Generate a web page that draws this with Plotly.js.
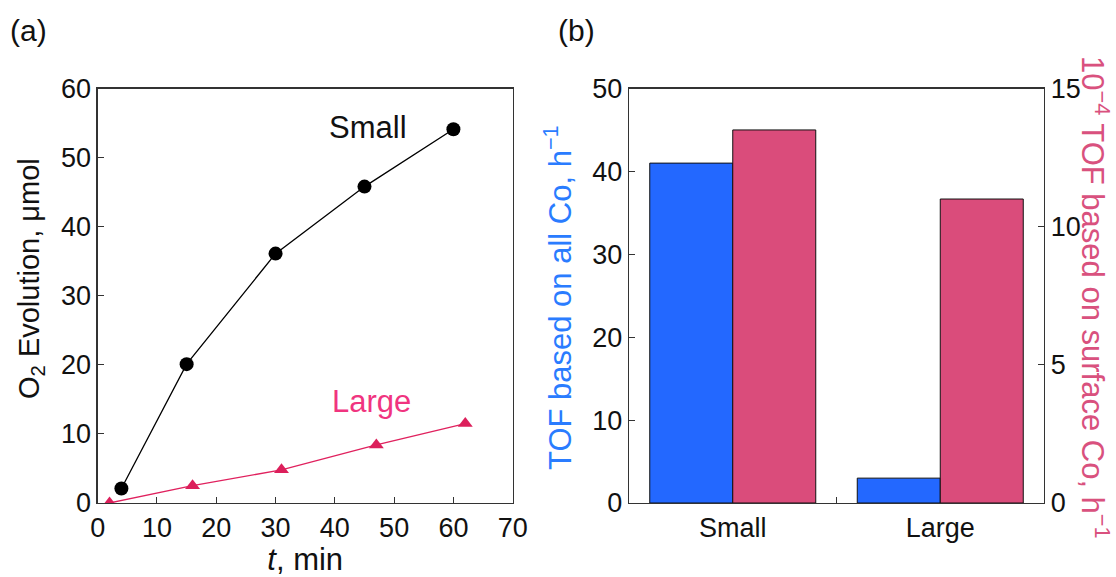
<!DOCTYPE html>
<html>
<head>
<meta charset="utf-8">
<script src="https://cdn.plot.ly/plotly-3.0.1.min.js"></script>
<style>html,body{margin:0;padding:0;background:#fff;}#chart{width:1116px;height:577px;}</style>
</head>
<body>
<div id="chart"></div>
<script>
// Panel (a): O2 evolution vs time
const smallTime = [4, 15, 30, 45, 60];
const smallO2 = [2.1, 20.1, 36.1, 45.8, 54.1];
const largeTime = [2, 16, 31, 47, 62];
const largeO2 = [0, 2.5, 4.8, 8.4, 11.5];

// Panel (b): TOF bars
const sizeCategories = ['Small', 'Large'];
const tofAllCo = [41, 3];
const tofSurfaceCo = [13.5, 11];

const FONT = 'Liberation Sans, Arial, Helvetica, sans-serif';
const AX = '#333333';
const yDom = [1 - 503/577, 1 - 88.5/577];

const traces = [
  {x: smallTime, y: smallO2, xaxis: 'x', yaxis: 'y', type: 'scatter', mode: 'lines+markers',
   line: {color: '#000', width: 1.3}, marker: {symbol: 'circle', size: 14, color: '#000'}, showlegend: false},
  {x: largeTime, y: largeO2, xaxis: 'x', yaxis: 'y', type: 'scatter', mode: 'lines+markers',
   line: {color: '#e0215e', width: 1.3}, marker: {symbol: 'triangle-up', size: 13, color: '#dc1f5b'}, showlegend: false},
  {x: sizeCategories, y: tofAllCo, xaxis: 'x2', yaxis: 'y2', type: 'bar', offsetgroup: 'a',
   marker: {color: '#2368ff', line: {color: '#111', width: 1}}, showlegend: false},
  {x: sizeCategories, y: tofSurfaceCo, xaxis: 'x2', yaxis: 'y3', type: 'bar', offsetgroup: 'b',
   marker: {color: '#da4c7b', line: {color: '#111', width: 1}}, showlegend: false}
];

const tickFont = {family: FONT, size: 27, color: '#111'};
const common = {showline: true, linecolor: AX, linewidth: 1.3, ticks: 'inside', ticklen: 6,
  tickcolor: AX, tickwidth: 1, showgrid: false, zeroline: false, tickfont: tickFont};

function ann(text, x, y, size, color, angle) {
  return {text: text, xref: 'paper', yref: 'paper', x: x/1116, y: 1 - y/577,
    xanchor: 'center', yanchor: 'middle', textangle: angle || 0, showarrow: false,
    font: {family: FONT, size: size, color: color}};
}

const layout = {
  width: 1116, height: 577,
  margin: {l: 0, r: 0, t: 0, b: 0},
  paper_bgcolor: '#fff', plot_bgcolor: '#fff',
  barmode: 'group', bargap: 0.2, bargroupgap: 0,
  font: {family: FONT, color: '#111'},
  xaxis: Object.assign({}, common, {domain: [97.7/1116, 512.7/1116], anchor: 'y', range: [0, 70], dtick: 10, mirror: true,
    title: {text: '<i>t</i>, min', font: {family: FONT, size: 31, color: '#111'}, standoff: 6}}),
  yaxis: Object.assign({}, common, {domain: yDom, anchor: 'x', range: [0, 60], dtick: 10, mirror: true}),
  xaxis2: Object.assign({}, common, {domain: [629/1116, 1044/1116], anchor: 'y2', type: 'category',
    range: [-0.5, 1.5], tickson: 'boundaries', mirror: true}),
  yaxis2: Object.assign({}, common, {domain: yDom, anchor: 'x2', range: [0, 50], dtick: 10}),
  yaxis3: Object.assign({}, common, {domain: yDom, anchor: 'x2', overlaying: 'y2', side: 'right', range: [0, 15], dtick: 5}),
  annotations: [
    ann('(a)', 28, 30, 30, '#111'),
    ann('(b)', 576, 30, 30, '#111'),
    ann('O<sub>2</sub> Evolution, μmol', 31, 279, 29, '#111', -90),
    {text: 'Small', xref: 'x', yref: 'y', x: 45.6, y: 54.3, xanchor: 'center', yanchor: 'middle', showarrow: false,
     font: {family: FONT, size: 31, color: '#111'}},
    {text: 'Large', xref: 'x', yref: 'y', x: 46.2, y: 14.7, xanchor: 'center', yanchor: 'middle', showarrow: false,
     font: {family: FONT, size: 31, color: '#f0347f'}},
    ann('TOF based on all Co, h<sup>−1</sup>', 558, 298, 31, '#2a7cff', -90),
    ann('10<sup>−4</sup> TOF based on surface Co, h<sup>−1</sup>', 1095, 297, 31, '#d9517e', 90)
  ]
};

Plotly.newPlot('chart', traces, layout, {displayModeBar: false, staticPlot: true});
</script>
</body>
</html>
